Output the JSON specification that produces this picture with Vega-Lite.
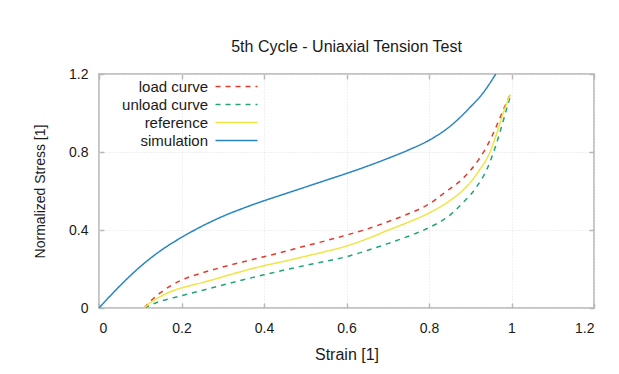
{
  "$schema": "https://vega.github.io/schema/vega-lite/v6.json",
  "autosize": {"type": "none"},
  "width": 495,
  "height": 234,
  "padding": {"left": 99, "top": 74, "right": 25, "bottom": 66},
  "background": "white",
  "title": {"text": "5th Cycle - Uniaxial Tension Test", "font": "Liberation Sans", "fontSize": 16, "fontWeight": "normal", "color": "#1a1a1a", "baseline": "alphabetic", "offset": -1},
  "data": {"values": [
    {"strain": 0.11, "stress": 0, "series": "load curve"},
    {"strain": 0.12, "stress": 0.025, "series": "load curve"},
    {"strain": 0.13, "stress": 0.045, "series": "load curve"},
    {"strain": 0.15, "stress": 0.08, "series": "load curve"},
    {"strain": 0.175, "stress": 0.115, "series": "load curve"},
    {"strain": 0.2, "stress": 0.143, "series": "load curve"},
    {"strain": 0.25, "stress": 0.18, "series": "load curve"},
    {"strain": 0.3, "stress": 0.21, "series": "load curve"},
    {"strain": 0.35, "stress": 0.237, "series": "load curve"},
    {"strain": 0.4, "stress": 0.263, "series": "load curve"},
    {"strain": 0.45, "stress": 0.29, "series": "load curve"},
    {"strain": 0.5, "stress": 0.318, "series": "load curve"},
    {"strain": 0.55, "stress": 0.345, "series": "load curve"},
    {"strain": 0.6, "stress": 0.374, "series": "load curve"},
    {"strain": 0.65, "stress": 0.405, "series": "load curve"},
    {"strain": 0.7, "stress": 0.442, "series": "load curve"},
    {"strain": 0.75, "stress": 0.483, "series": "load curve"},
    {"strain": 0.8, "stress": 0.533, "series": "load curve"},
    {"strain": 0.84, "stress": 0.595, "series": "load curve"},
    {"strain": 0.88, "stress": 0.66, "series": "load curve"},
    {"strain": 0.92, "stress": 0.76, "series": "load curve"},
    {"strain": 0.94, "stress": 0.828, "series": "load curve"},
    {"strain": 0.965, "stress": 0.94, "series": "load curve"},
    {"strain": 0.98, "stress": 1.015, "series": "load curve"},
    {"strain": 0.997, "stress": 1.095, "series": "load curve"},
    {"strain": 0.11, "stress": 0, "series": "unload curve"},
    {"strain": 0.12, "stress": 0.01, "series": "unload curve"},
    {"strain": 0.13, "stress": 0.02, "series": "unload curve"},
    {"strain": 0.15, "stress": 0.035, "series": "unload curve"},
    {"strain": 0.175, "stress": 0.05, "series": "unload curve"},
    {"strain": 0.2, "stress": 0.063, "series": "unload curve"},
    {"strain": 0.25, "stress": 0.09, "series": "unload curve"},
    {"strain": 0.3, "stress": 0.118, "series": "unload curve"},
    {"strain": 0.35, "stress": 0.145, "series": "unload curve"},
    {"strain": 0.4, "stress": 0.17, "series": "unload curve"},
    {"strain": 0.45, "stress": 0.195, "series": "unload curve"},
    {"strain": 0.5, "stress": 0.218, "series": "unload curve"},
    {"strain": 0.55, "stress": 0.24, "series": "unload curve"},
    {"strain": 0.6, "stress": 0.263, "series": "unload curve"},
    {"strain": 0.65, "stress": 0.295, "series": "unload curve"},
    {"strain": 0.7, "stress": 0.33, "series": "unload curve"},
    {"strain": 0.75, "stress": 0.368, "series": "unload curve"},
    {"strain": 0.8, "stress": 0.412, "series": "unload curve"},
    {"strain": 0.85, "stress": 0.475, "series": "unload curve"},
    {"strain": 0.88, "stress": 0.535, "series": "unload curve"},
    {"strain": 0.915, "stress": 0.62, "series": "unload curve"},
    {"strain": 0.94, "stress": 0.71, "series": "unload curve"},
    {"strain": 0.96, "stress": 0.82, "series": "unload curve"},
    {"strain": 0.976, "stress": 0.93, "series": "unload curve"},
    {"strain": 0.988, "stress": 1.02, "series": "unload curve"},
    {"strain": 0.997, "stress": 1.085, "series": "unload curve"},
    {"strain": 0.11, "stress": 0, "series": "reference"},
    {"strain": 0.12, "stress": 0.02, "series": "reference"},
    {"strain": 0.13, "stress": 0.035, "series": "reference"},
    {"strain": 0.15, "stress": 0.06, "series": "reference"},
    {"strain": 0.175, "stress": 0.085, "series": "reference"},
    {"strain": 0.2, "stress": 0.103, "series": "reference"},
    {"strain": 0.25, "stress": 0.13, "series": "reference"},
    {"strain": 0.3, "stress": 0.16, "series": "reference"},
    {"strain": 0.35, "stress": 0.19, "series": "reference"},
    {"strain": 0.4, "stress": 0.217, "series": "reference"},
    {"strain": 0.45, "stress": 0.24, "series": "reference"},
    {"strain": 0.5, "stress": 0.265, "series": "reference"},
    {"strain": 0.55, "stress": 0.29, "series": "reference"},
    {"strain": 0.6, "stress": 0.318, "series": "reference"},
    {"strain": 0.65, "stress": 0.355, "series": "reference"},
    {"strain": 0.7, "stress": 0.398, "series": "reference"},
    {"strain": 0.75, "stress": 0.44, "series": "reference"},
    {"strain": 0.8, "stress": 0.487, "series": "reference"},
    {"strain": 0.85, "stress": 0.55, "series": "reference"},
    {"strain": 0.89, "stress": 0.62, "series": "reference"},
    {"strain": 0.92, "stress": 0.7, "series": "reference"},
    {"strain": 0.95, "stress": 0.81, "series": "reference"},
    {"strain": 0.965, "stress": 0.9, "series": "reference"},
    {"strain": 0.98, "stress": 1.0, "series": "reference"},
    {"strain": 0.997, "stress": 1.095, "series": "reference"},
    {"strain": 0, "stress": 0, "series": "simulation"},
    {"strain": 0.05, "stress": 0.112, "series": "simulation"},
    {"strain": 0.1, "stress": 0.212, "series": "simulation"},
    {"strain": 0.15, "stress": 0.295, "series": "simulation"},
    {"strain": 0.2, "stress": 0.362, "series": "simulation"},
    {"strain": 0.25, "stress": 0.42, "series": "simulation"},
    {"strain": 0.3, "stress": 0.47, "series": "simulation"},
    {"strain": 0.35, "stress": 0.512, "series": "simulation"},
    {"strain": 0.4, "stress": 0.55, "series": "simulation"},
    {"strain": 0.45, "stress": 0.585, "series": "simulation"},
    {"strain": 0.5, "stress": 0.62, "series": "simulation"},
    {"strain": 0.55, "stress": 0.655, "series": "simulation"},
    {"strain": 0.6, "stress": 0.69, "series": "simulation"},
    {"strain": 0.65, "stress": 0.727, "series": "simulation"},
    {"strain": 0.7, "stress": 0.767, "series": "simulation"},
    {"strain": 0.75, "stress": 0.81, "series": "simulation"},
    {"strain": 0.8, "stress": 0.86, "series": "simulation"},
    {"strain": 0.85, "stress": 0.93, "series": "simulation"},
    {"strain": 0.9, "stress": 1.03, "series": "simulation"},
    {"strain": 0.93, "stress": 1.1, "series": "simulation"},
    {"strain": 0.962, "stress": 1.2, "series": "simulation"}
  ]},
  "layer": [
    {
      "mark": {"type": "line", "strokeWidth": 1.5, "clip": true, "interpolate": "monotone"},
      "encoding": {
        "x": {"field": "strain", "type": "quantitative", "scale": {"domain": [0, 1.2], "nice": false},
              "axis": {"orient": "bottom", "title": "Strain [1]", "titleFontSize": 16, "values": [0, 0.2, 0.4, 0.6, 0.8, 1, 1.2], "format": "~g", "labelPadding": 18, "titlePadding": 11}},
        "y": {"field": "stress", "type": "quantitative", "scale": {"domain": [0, 1.2], "nice": false},
              "axis": {"orient": "left", "title": "Normalized Stress [1]", "values": [0, 0.4, 0.8, 1.2], "format": "~g", "labelPadding": 16, "titlePadding": 21}},
        "color": {"field": "series", "type": "nominal",
                  "scale": {"domain": ["load curve", "unload curve", "reference", "simulation"], "range": ["#e5392b", "#1fa57a", "#f0e442", "#2a86c2"]},
                  "legend": {"title": null}},
        "strokeDash": {"field": "series", "type": "nominal",
                  "scale": {"domain": ["load curve", "unload curve", "reference", "simulation"], "range": [[5, 5], [5, 5], [1, 0], [1, 0]]},
                  "legend": {"title": null}},
        "order": {"field": "strain", "type": "quantitative"}
      }
    },
    {
      "mark": {"type": "line", "opacity": 0},
      "encoding": {
        "x": {"field": "strain", "type": "quantitative", "axis": {"orient": "top", "labels": false, "grid": false, "title": null, "values": [0, 0.2, 0.4, 0.6, 0.8, 1, 1.2]}},
        "y": {"field": "stress", "type": "quantitative", "axis": {"orient": "right", "labels": false, "grid": false, "title": null, "values": [0, 0.4, 0.8, 1.2]}},
        "detail": {"field": "series", "type": "nominal"}
      }
    }
  ],
  "resolve": {"axis": {"x": "independent", "y": "independent"}},
  "config": {
    "view": {"stroke": "#c4c4c4", "strokeWidth": 2},
    "axis": {"domain": false, "grid": true, "gridColor": "#e0e0e0", "gridDash": [1, 2], "gridWidth": 1,
             "tickColor": "#b8b8b8", "tickSize": -5, "tickWidth": 1.5,
             "labelFont": "Liberation Sans", "labelFontSize": 14, "labelColor": "#1a1a1a",
             "titleFont": "Liberation Sans", "titleFontSize": 14, "titleFontWeight": "normal", "titleColor": "#1a1a1a"},
    "legend": {"orient": "none", "legendX": 100, "legendY": 5, "padding": 0,
               "symbolType": "M-4.2,0H4.2", "symbolSize": 100, "symbolStrokeWidth": 1.5,
               "labelAlign": "right", "labelOffset": -36, "symbolOffset": 30, "rowPadding": 2,
               "labelFont": "Liberation Sans", "labelFontSize": 15, "labelColor": "#1a1a1a"}
  }
}
